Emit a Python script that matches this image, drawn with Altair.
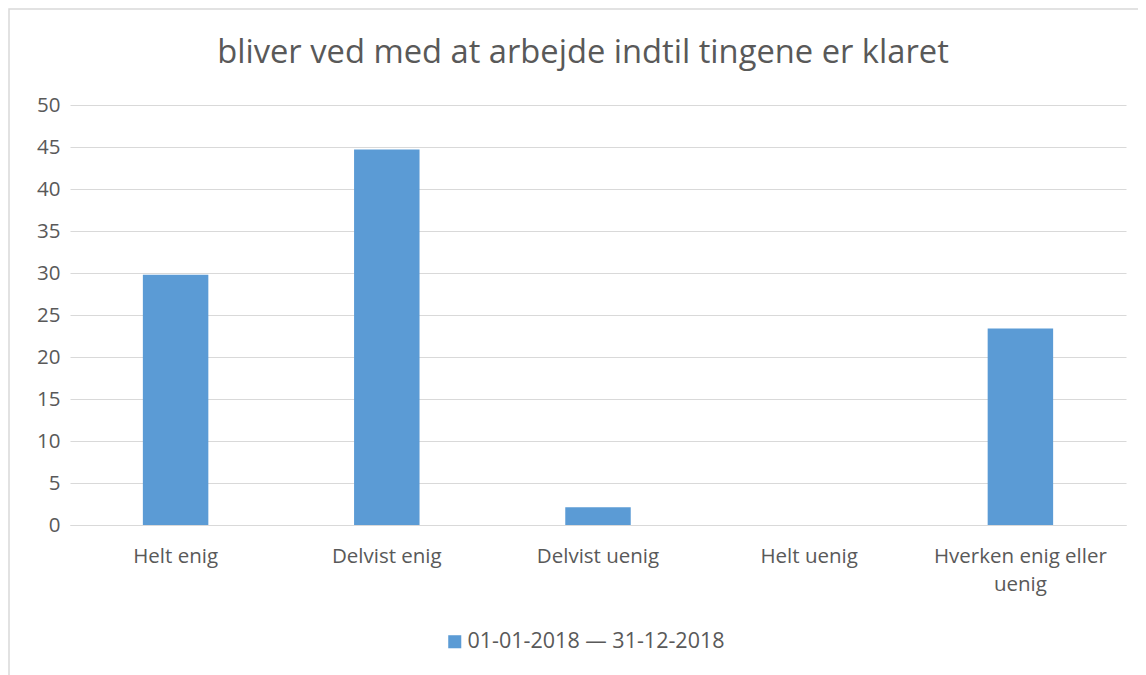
import altair as alt
import pandas as pd

categories = ["Helt enig", "Delvist enig", "Delvist uenig", "Helt uenig", "Hverken enig eller\nuenig"]
values = [29.8, 44.7, 2.1, 0.0, 23.4]
series_name = "01-01-2018 — 31-12-2018"
title_text = "bliver ved med at arbejde indtil tingene er klaret"
y_ticks = [0, 5, 10, 15, 20, 25, 30, 35, 40, 45, 50]

df = pd.DataFrame({"kategori": categories, "værdi": values, "serie": [series_name] * len(categories)})

FONT = "Open Sans"
GRAY = "#595959"
FS = 20.5

bars = alt.Chart(df).mark_bar(color="#5b9bd5").encode(
    x=alt.X("kategori:N", sort=categories,
            scale=alt.Scale(paddingInner=0.69, paddingOuter=0.345),
            axis=alt.Axis(title=None, labelAngle=0, labelExpr="split(datum.label, '\\n')",
                          labelFont=FONT, labelFontSize=FS, labelColor=GRAY, labelPadding=21,
                          labelLineHeight=28,
                          ticks=False, domain=True, domainColor="#d9d9d9", grid=False)),
    y=alt.Y("værdi:Q", scale=alt.Scale(domain=[0, 50]),
            axis=alt.Axis(title=None, values=y_ticks, labelFont=FONT, labelFontSize=FS,
                          labelColor=GRAY, labelPadding=10, ticks=False, domain=False,
                          gridColor="#d9d9d9", gridWidth=1)),
    color=alt.Color("serie:N", scale=alt.Scale(range=["#5b9bd5"]),
                    legend=alt.Legend(title=None, orient="none", legendX=374, legendY=526,
                                      direction="horizontal",
                                      symbolType="square", symbolSize=170, symbolStrokeWidth=0,
                                      labelFont=FONT, labelFontSize=21.5, labelColor=GRAY,
                                      labelLimit=600, labelOffset=2)),
)

frame = alt.Chart(pd.DataFrame({"f": [0]})).mark_rect(
    fill=None, stroke="#d9d9d9", strokeWidth=1.5
).encode(
    x=alt.value(-61), x2=alt.value(1200), y=alt.value(-96), y2=alt.value(700)
)

chart = alt.layer(bars, frame).properties(
    width=1056, height=420,
    autosize=alt.AutoSizeParams(type="none"),
    padding={"left": 62, "top": 97, "right": 12, "bottom": 150},
    title=alt.TitleParams(title_text, font=FONT, fontSize=32.7, fontWeight="normal",
                          color=GRAY, anchor="middle", frame="group", offset=0, dy=61, dx=-15),
).configure(background="white").configure_view(stroke=None)

chart.save("out.html", embed_options={"renderer": "svg", "actions": False})
